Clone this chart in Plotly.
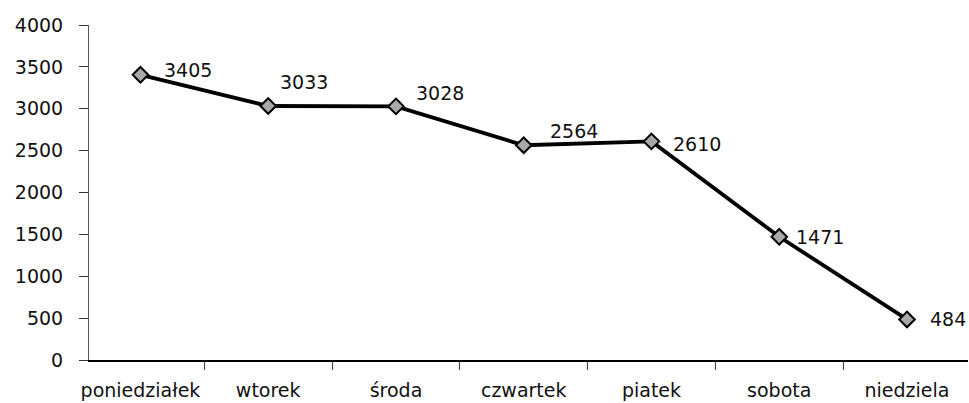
import plotly.graph_objects as go

days = ["poniedziałek", "wtorek", "środa", "czwartek", "piatek", "sobota", "niedziela"]
values = [3405, 3033, 3028, 2564, 2610, 1471, 484]
y_ticks = [0, 500, 1000, 1500, 2000, 2500, 3000, 3500, 4000]

# label offsets (pixels) for each data label, mimicking the original placement
label_dx = [22, 10, 18, 24, 20, 15, 21]
label_dy = [5, 24, 13, 14, -3, 0, 0]

FONT = "DejaVu Sans"

fig = go.Figure()
fig.add_trace(go.Scatter(
    x=days, y=values, mode="lines+markers",
    line=dict(color="black", width=3.8),
    marker=dict(symbol="diamond", size=12, color="#a8a8a8",
                line=dict(color="black", width=2)),
    cliponaxis=False, showlegend=False,
))

for d, v, dx, dy in zip(days, values, label_dx, label_dy):
    fig.add_annotation(x=d, y=v, text=str(v), showarrow=False,
                       xanchor="left", yanchor="middle",
                       xshift=dx, yshift=dy,
                       font=dict(family=FONT, size=19, color="#111"))

fig.update_layout(
    width=969, height=403,
    margin=dict(l=89, r=1, t=25, b=43, autoexpand=False),
    paper_bgcolor="white", plot_bgcolor="white",
    font=dict(family=FONT, size=19, color="#111"),
)
fig.update_xaxes(
    showline=True, linecolor="black", linewidth=2,
    ticks="outside", tickson="boundaries", ticklen=8, tickcolor="#333",
    showgrid=False, zeroline=False, ticklabelstandoff=12, automargin=False,
    tickangle=0,
)
fig.update_yaxes(
    range=[0, 4000], tickvals=y_ticks,
    showline=True, linecolor="#555", linewidth=1,
    ticks="outside", ticklen=9, tickcolor="#333",
    showgrid=False, zeroline=False, ticklabelstandoff=12, automargin=False,
)

fig.write_html("out.html", config={"displayModeBar": False},
               post_script="document.body.style.margin='0';document.body.style.overflow='hidden';")
